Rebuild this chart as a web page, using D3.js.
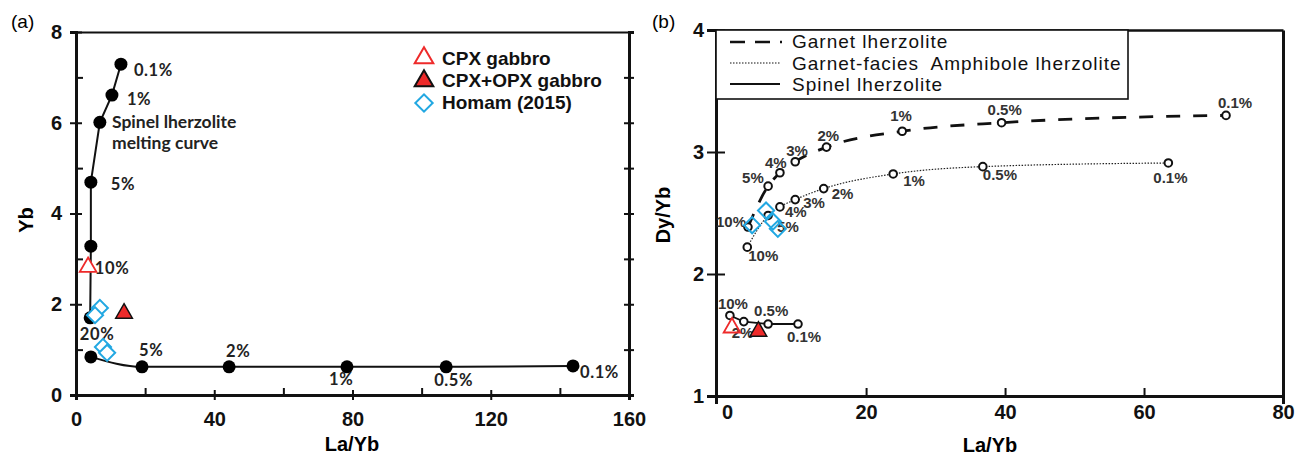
<!DOCTYPE html>
<html><head><meta charset="utf-8">
<script src="https://cdn.jsdelivr.net/npm/d3@7"></script>
<style>
body{margin:0;background:#fff;}
svg{display:block;}
</style></head><body>
<svg id="c" width="1296" height="455"></svg>
<script>
// ================= DATA : panel (a) =================
const aXTicks = [0, 40, 80, 120, 160];
const aXMinor = [20, 60, 100, 140];
const aYTicks = [0, 2, 4, 6, 8];
const aYMinor = [1, 3, 5, 7];
const aRightTicks = [1, 2, 3, 4, 5, 6, 7];

const spinelUpperX = [13.0, 10.4, 6.9, 4.3, 4.3, 4.1];
const spinelUpperY = [7.29, 6.61, 6.01, 4.69, 3.28, 1.70];
const spinelUpperLabel = ["0.1%", "1%", "", "5%", "10%", ""];

const spinelLowerX = [4.3, 19.1, 44.3, 78.4, 107.1, 143.8];
const spinelLowerY = [0.84, 0.62, 0.62, 0.62, 0.62, 0.64];
const spinelLowerLabel = ["20%", "5%", "2%", "1%", "0.5%", "0.1%"];

const aCpxX = [3.5],  aCpxY = [2.82];
const aCpxOpxX = [13.9], aCpxOpxY = [1.80];
const aHomamX = [6.9, 5.5, 7.8, 9.0];
const aHomamY = [1.92, 1.76, 1.06, 0.93];
const aLegend = ["CPX gabbro", "CPX+OPX gabbro", "Homam (2015)"];

// ================= DATA : panel (b) =================
const bXTicks = [0, 20, 40, 60, 80];
const bYTicks = [1, 2, 3, 4];

const garnetX = [3.0, 5.9, 7.6, 9.8, 14.3, 25.2, 39.5, 71.8];
const garnetY = [2.385, 2.72, 2.83, 2.92, 3.04, 3.17, 3.24, 3.30];
const garnetLabel = ["10%", "5%", "4%", "3%", "2%", "1%", "0.5%", "0.1%"];

const amphX = [2.9, 5.9, 7.6, 9.8, 13.9, 23.9, 36.8, 63.5];
const amphY = [2.22, 2.48, 2.55, 2.61, 2.70, 2.82, 2.88, 2.91];
const amphLabel = ["10%", "5%", "4%", "3%", "2%", "1%", "0.5%", "0.1%"];

const spinelBX = [0.4, 2.4, 5.9, 10.2];
const spinelBY = [1.66, 1.61, 1.59, 1.59];
const spinelBLabel = ["10%", "2%", "0.5%", "0.1%"];

const bCpxX = [0.7], bCpxY = [1.56];
const bCpxOpxX = [4.5], bCpxOpxY = [1.53];
const bHomamX = [3.6, 5.6, 6.6, 7.3];
const bHomamY = [2.40, 2.52, 2.43, 2.37];
const bLegend = ["Garnet lherzolite", "Garnet-facies  Amphibole lherzolite", "Spinel lherzolite"];

// ================= LAYOUT (label offsets in px) =================
const spinelUpperOff = [[13,12],[15,10],[0,0],[20,8],[4,28],[0,0]];
const spinelLowerOff = [[-11,-17],[-3,-11],[-3,-10],[-18,18],[-12,19],[7,12]];
const garnetOff = [[-32,0],[-26,-3],[-15,-5],[-9,-6],[-9,-6],[-12,-10],[-14,-8],[-8,-7]];
const amphOff = [[1,14],[9,17],[5,10],[8,8],[8,10],[10,12],[0,13],[-15,20]];
const spinelBOff = [[-12,-6],[-12,16],[-14,-8],[-11,18]];

const RED = "#ee2a2a", BLUE = "#22a8e2";
const AX = "'Liberation Sans', Arial, sans-serif";
const LBL = "Lato, 'Open Sans', sans-serif";

const svg = d3.select("#c");
svg.append("rect").attr("width", 1296).attr("height", 455).attr("fill", "#fff");

function zip(xs, ys, ls) { return xs.map((x, i) => ({x: x, y: ys[i], l: ls ? ls[i] : ""})); }
function styleAxis(g, w) {
  g.select(".domain").attr("stroke", "#111").attr("stroke-width", w);
  g.selectAll(".tick line").attr("stroke", "#111").attr("stroke-width", 2);
  g.selectAll(".tick text").attr("font-family", AX).attr("font-weight", "bold")
    .attr("font-size", 20).attr("fill", "#111");
}
const triSym = d3.symbol().type(d3.symbolTriangle).size(120);
const triSymL = d3.symbol().type(d3.symbolTriangle).size(150);
const sqSym = d3.symbol().type(d3.symbolSquare).size(130);
const intFmt = d3.format("d");

// ================= PANEL (a) =================
const xa = d3.scaleLinear().domain([0, 160]).range([76, 629]);
const ya = d3.scaleLinear().domain([0, 8]).range([395, 32]);
const gA = svg.append("g");

// minor ticks (inward)
gA.append("g").attr("transform", `translate(0,${ya(0)})`)
  .call(d3.axisBottom(xa).tickValues(aXMinor).tickSize(-7).tickFormat(""))
  .call(g => { g.select(".domain").remove(); g.selectAll("line").attr("stroke", "#111").attr("stroke-width", 2); });
gA.append("g").attr("transform", `translate(${xa(0)},0)`)
  .call(d3.axisLeft(ya).tickValues(aYMinor).tickSize(-7).tickFormat(""))
  .call(g => { g.select(".domain").remove(); g.selectAll("line").attr("stroke", "#111").attr("stroke-width", 2); });

// top & right
gA.append("g").attr("transform", `translate(0,${ya(8)})`)
  .call(d3.axisTop(xa).tickValues([]).tickSizeOuter(0)).call(g => styleAxis(g, 2));
gA.append("g").attr("transform", `translate(${xa(160)},0)`)
  .call(d3.axisRight(ya).tickValues(aRightTicks).tickSizeOuter(0).tickSize(5).tickFormat(""))
  .call(g => { styleAxis(g, 3); g.selectAll(".tick line").attr("x1", -5).attr("x2", 5); });

// bottom
gA.append("g").attr("transform", `translate(0,${ya(0)})`)
  .call(d3.axisBottom(xa).tickValues(aXTicks).tickFormat(intFmt).tickSizeOuter(0).tickSize(5).tickPadding(12))
  .call(g => { styleAxis(g, 3); g.selectAll(".tick line").attr("y1", -5).attr("y2", 5); });
// left
gA.append("g").attr("transform", `translate(${xa(0)},0)`)
  .call(d3.axisLeft(ya).tickValues(aYTicks).tickFormat(intFmt).tickSizeOuter(0).tickSize(6).tickPadding(8))
  .call(g => { styleAxis(g, 3); g.selectAll(".tick line").attr("x1", -6).attr("x2", 6); });

// titles
gA.append("text").attr("x", 352).attr("y", 451).attr("text-anchor", "middle")
  .attr("font-family", AX).attr("font-weight", "bold").attr("font-size", 20).text("La/Yb");
gA.append("text").attr("transform", "translate(33,220) rotate(-90)").attr("text-anchor", "middle")
  .attr("font-family", AX).attr("font-weight", "bold").attr("font-size", 20).text("Yb");
svg.append("text").attr("x", 11).attr("y", 28).attr("font-family", AX).attr("font-size", 19).text("(a)");

// curves
const upper = zip(spinelUpperX, spinelUpperY, spinelUpperLabel);
const lower = zip(spinelLowerX, spinelLowerY, spinelLowerLabel);
gA.append("path").datum(upper).attr("fill", "none").attr("stroke", "#111").attr("stroke-width", 2)
  .attr("d", d3.line().x(d => xa(d.x)).y(d => ya(d.y)));
gA.append("path").datum(lower).attr("fill", "none").attr("stroke", "#111").attr("stroke-width", 2)
  .attr("d", d3.line().x(d => xa(d.x)).y(d => ya(d.y)).curve(d3.curveMonotoneX));
gA.selectAll("circle.u").data(upper.concat(lower)).join("circle")
  .attr("cx", d => xa(d.x)).attr("cy", d => ya(d.y)).attr("r", 6.5).attr("fill", "#000");

function labels(g, data, off, xs, ys, font, size, weight, color, ls) {
  g.selectAll(null).data(data.filter(d => d.l !== "")).join("text")
    .attr("x", d => xs(d.x) + off[data.indexOf(d)][0])
    .attr("y", d => ys(d.y) + off[data.indexOf(d)][1])
    .attr("font-family", font).attr("font-size", size).attr("font-weight", weight)
    .attr("letter-spacing", ls).attr("fill", color).text(d => d.l);
}
labels(gA, upper, spinelUpperOff, xa, ya, LBL, 16.5, "bold", "#222", 0.6);
labels(gA, lower, spinelLowerOff, xa, ya, LBL, 16.5, "bold", "#222", 0.6);
gA.append("text").attr("x", 112).attr("y", 128).attr("font-family", LBL).attr("font-weight", "bold")
  .attr("font-size", 17.5).attr("fill", "#222").text("Spinel lherzolite");
gA.append("text").attr("x", 112).attr("y", 149).attr("font-family", LBL).attr("font-weight", "bold")
  .attr("font-size", 17.5).attr("fill", "#222").text("melting curve");

// samples
gA.selectAll("path.cpx").data(zip(aCpxX, aCpxY)).join("path")
  .attr("transform", d => `translate(${xa(d.x)},${ya(d.y)})`).attr("d", triSym)
  .attr("fill", "#fff").attr("stroke", RED).attr("stroke-width", 1.8);
gA.selectAll("path.co").data(zip(aCpxOpxX, aCpxOpxY)).join("path")
  .attr("transform", d => `translate(${xa(d.x)},${ya(d.y)})`).attr("d", triSym)
  .attr("fill", RED).attr("stroke", "#111").attr("stroke-width", 1.5);
gA.selectAll("path.hm").data(zip(aHomamX, aHomamY)).join("path")
  .attr("transform", d => `translate(${xa(d.x)},${ya(d.y)}) rotate(45)`).attr("d", sqSym)
  .attr("fill", "#fff").attr("stroke", BLUE).attr("stroke-width", 2);

// legend (a)
const lgA = gA.append("g");
lgA.append("path").attr("transform", "translate(424,58)").attr("d", triSymL).attr("fill", "#fff").attr("stroke", RED).attr("stroke-width", 2);
lgA.append("path").attr("transform", "translate(424,81)").attr("d", triSymL).attr("fill", RED).attr("stroke", "#111").attr("stroke-width", 2);
lgA.append("path").attr("transform", "translate(424,103) rotate(45)").attr("d", d3.symbol().type(d3.symbolSquare).size(150)).attr("fill", "#fff").attr("stroke", BLUE).attr("stroke-width", 2);
lgA.selectAll("text").data(aLegend).join("text")
  .attr("x", 442).attr("y", (d, i) => 65 + i * 22).attr("font-family", AX).attr("font-weight", "bold")
  .attr("font-size", 19).attr("fill", "#111").text(d => d);

// ================= PANEL (b) =================
const xb = d3.scaleLinear().domain([-1.6, 80]).range([716, 1283]);
const yb = d3.scaleLinear().domain([1, 4]).range([396, 30]);
const gB = svg.append("g");

gB.append("g").attr("transform", `translate(0,${yb(4)})`)
  .call(d3.axisTop(xb).tickValues([]).tickSizeOuter(0)).call(g => styleAxis(g, 2.5));
gB.append("g").attr("transform", `translate(${xb(80)},0)`)
  .call(d3.axisRight(yb).tickValues([]).tickSizeOuter(0)).call(g => styleAxis(g, 3));
gB.append("g").attr("transform", `translate(0,${yb(1)})`)
  .call(d3.axisBottom(xb).tickValues(bXTicks).tickFormat(intFmt).tickSizeOuter(0).tickSize(8).tickPadding(1))
  .call(g => { styleAxis(g, 3); g.selectAll(".tick line").attr("y1", -8).attr("y2", 0)
     .attr("stroke-width", d => (d === 0 || d === 80) ? 0 : 2); });
gB.append("g").attr("transform", `translate(${xb(-1.6)},0)`)
  .call(d3.axisLeft(yb).tickValues(bYTicks).tickFormat(intFmt).tickSizeOuter(0).tickSize(9).tickPadding(3))
  .call(g => { styleAxis(g, 3); g.selectAll(".tick line").attr("x1", -9).attr("x2", 9); });

gB.append("text").attr("x", 990).attr("y", 452).attr("text-anchor", "middle")
  .attr("font-family", AX).attr("font-weight", "bold").attr("font-size", 20).text("La/Yb");
gB.append("text").attr("transform", "translate(670,215) rotate(-90)").attr("text-anchor", "middle")
  .attr("font-family", AX).attr("font-weight", "bold").attr("font-size", 20).text("Dy/Yb");
svg.append("text").attr("x", 652).attr("y", 28).attr("font-family", AX).attr("font-size", 19).text("(b)");

// legend box (b)
const lgB = gB.append("g");
lgB.append("rect").attr("x", xb(-1.6)).attr("y", yb(4)).attr("width", 1128 - xb(-1.6)).attr("height", 99 - yb(4))
  .attr("fill", "#fff").attr("stroke", "#111").attr("stroke-width", 1.6);
lgB.append("line").attr("x1", 730).attr("x2", 782).attr("y1", 42).attr("y2", 42)
  .attr("stroke", "#111").attr("stroke-width", 2.5).attr("stroke-dasharray", "15,10");
lgB.append("line").attr("x1", 730).attr("x2", 780).attr("y1", 63).attr("y2", 63)
  .attr("stroke", "#111").attr("stroke-width", 1.2).attr("stroke-dasharray", "1.5,1.5");
lgB.append("line").attr("x1", 730).attr("x2", 780).attr("y1", 84).attr("y2", 84)
  .attr("stroke", "#111").attr("stroke-width", 2);
lgB.selectAll("text").data(bLegend).join("text")
  .attr("x", 792).attr("y", (d, i) => 48 + i * 21.5).attr("font-family", AX)
  .attr("font-size", 19).attr("letter-spacing", 1).attr("fill", "#111")
  .style("white-space", "pre").text(d => d);

// curves
const garnet = zip(garnetX, garnetY, garnetLabel);
const amph = zip(amphX, amphY, amphLabel);
const spB = zip(spinelBX, spinelBY, spinelBLabel);
const lineB = d3.line().x(d => xb(d.x)).y(d => yb(d.y)).curve(d3.curveMonotoneX);
gB.append("path").datum(garnet).attr("fill", "none").attr("stroke", "#111").attr("stroke-width", 2.8)
  .attr("stroke-dasharray", "14,13").attr("d", lineB);
gB.append("path").datum(amph).attr("fill", "none").attr("stroke", "#222").attr("stroke-width", 1.2)
  .attr("stroke-dasharray", "1.5,1.5").attr("d", lineB);
gB.append("path").datum(spB).attr("fill", "none").attr("stroke", "#111").attr("stroke-width", 1.8)
  .attr("d", d3.line().x(d => xb(d.x)).y(d => yb(d.y)));
gB.selectAll("circle.p").data(garnet.concat(amph, spB)).join("circle")
  .attr("cx", d => xb(d.x)).attr("cy", d => yb(d.y)).attr("r", 3.8)
  .attr("fill", "#fff").attr("stroke", "#111").attr("stroke-width", 2);

labels(gB, garnet, garnetOff, xb, yb, AX, 15, "bold", "#333", 0);
labels(gB, amph, amphOff, xb, yb, AX, 15, "bold", "#333", 0);
labels(gB, spB, spinelBOff, xb, yb, AX, 15, "bold", "#333", 0);

gB.selectAll("path.cpxb").data(zip(bCpxX, bCpxY)).join("path")
  .attr("transform", d => `translate(${xb(d.x)},${yb(d.y)})`).attr("d", triSym)
  .attr("fill", "none").attr("stroke", RED).attr("stroke-width", 1.8);
gB.selectAll("path.cob").data(zip(bCpxOpxX, bCpxOpxY)).join("path")
  .attr("transform", d => `translate(${xb(d.x)},${yb(d.y)})`).attr("d", triSym)
  .attr("fill", RED).attr("stroke", "#111").attr("stroke-width", 1.5);
gB.selectAll("path.hmb").data(zip(bHomamX, bHomamY)).join("path")
  .attr("transform", d => `translate(${xb(d.x)},${yb(d.y)}) rotate(45)`).attr("d", sqSym)
  .attr("fill", "none").attr("stroke", BLUE).attr("stroke-width", 2);
</script>
</body></html>
